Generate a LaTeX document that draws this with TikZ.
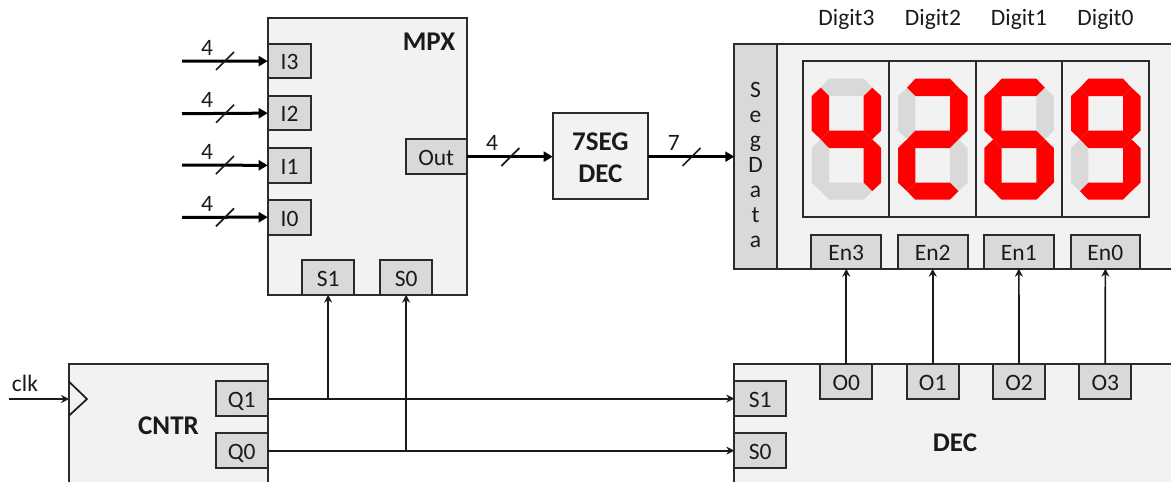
\documentclass[tikz,border=0pt]{standalone}
\usepackage{fontspec}
\setmainfont{Carlito}
\usetikzlibrary{arrows.meta}
\definecolor{panel}{HTML}{F2F2F2}
\definecolor{port}{HTML}{D9D9D9}
\definecolor{edge}{HTML}{2B2B2B}
\definecolor{ink}{HTML}{1A1A1A}
\tikzset{
  lbl/.style={font=\fontsize{23.5}{28}\selectfont,text=ink,inner sep=0pt},
  title/.style={font=\fontsize{27}{31.5}\selectfont\bfseries,text=ink,inner sep=0pt,align=center},
  sig/.style={line width=1.7pt,draw=ink,-{Stealth[length=8pt,width=8pt]}},
  bus/.style={line width=3pt,draw=black,-{Stealth[length=9pt,width=10pt,inset=0pt]},shorten >=0pt},
  tick/.style={line width=1.7pt,draw=ink},
  plain/.style={line width=1.7pt,draw=ink},
  frame/.style={draw=edge,line width=1.8pt,fill=panel},
  portbox/.style={draw=edge,line width=1.8pt,fill=port,text height=17.6pt,text depth=0pt},
  seggray/.style={fill=port},
  segred/.style={fill=red}
}
% box by corners: name, x1, y1, x2, y2, style, text
\newcommand{\cbox}[7]{%
  \pgfmathsetmacro{\bw}{#4-#2}\pgfmathsetmacro{\bh}{#5-#3}%
  \pgfmathsetmacro{\bx}{(#2+#4)/2}\pgfmathsetmacro{\by}{(#3+#5)/2}%
  \node[#6,lbl,anchor=center,minimum width=\bw pt,minimum height=\bh pt,outer sep=0pt] (#1) at (\bx,\by) {#7};}
% segments
\newcommand{\segA}[2]{\fill[#2,shift={(#1,78.7)}] (9,9)--(17.3,0)--(52,0)--(60.5,9)--(52,17.3)--(17.3,17.3)--cycle;}
\newcommand{\segF}[2]{\fill[#2,shift={(#1,78.7)}] (0,17.3)--(9,9)--(17.3,17.3)--(17.3,52)--(9,60.6)--(0,52)--cycle;}
\newcommand{\segB}[2]{\fill[#2,shift={(#1,78.7)}] (69.5,17.3)--(60.5,9)--(52,17.3)--(52,52)--(60.5,60.6)--(69.5,52)--cycle;}
\newcommand{\segG}[2]{\fill[#2,shift={(#1,78.7)}] (9,60.6)--(17.3,52)--(52,52)--(60.5,60.6)--(52,69.3)--(17.3,69.3)--cycle;}
\newcommand{\segE}[2]{\fill[#2,shift={(#1,78.7)}] (0,69.3)--(9,60.6)--(17.3,69.3)--(17.3,104)--(9,112.5)--(0,104)--cycle;}
\newcommand{\segC}[2]{\fill[#2,shift={(#1,78.7)}] (69.5,69.3)--(60.5,60.6)--(52,69.3)--(52,104)--(60.5,112.5)--(69.5,104)--cycle;}
\newcommand{\segD}[2]{\fill[#2,shift={(#1,78.7)}] (9,112.5)--(17.3,104)--(52,104)--(60.5,112.5)--(52,121)--(17.3,121)--cycle;}
\newcommand{\busmark}[1]{\draw[tick] ([shift={(-9,9)}]#1) -- ([shift={(9,-9)}]#1);}
\begin{document}
\begin{tikzpicture}[x=1pt,y=-1pt]
\useasboundingbox (0,0) rectangle (1171,482);
\clip (0,0) rectangle (1171,482);

% MPX
\cbox{mpx}{267.7}{17.7}{466.7}{294.7}{frame}{}
\cbox{i3}{267.7}{44}{311.3}{78.3}{portbox}{I3}
\cbox{i2}{267.7}{96}{311.3}{130.3}{portbox}{I2}
\cbox{i1}{267.7}{148}{311.3}{182.7}{portbox}{I1}
\cbox{i0}{267.7}{199.7}{311.3}{234.7}{portbox}{I0}
\cbox{out}{405.7}{139.3}{466.7}{174}{portbox}{Out}
\cbox{ms1}{302}{260}{354.3}{294.7}{portbox}{S1}
\cbox{ms0}{380.3}{260}{432}{294.7}{portbox}{S0}
\node[title] (mpxt) at (429,42) {MPX};

% 7SEG
\cbox{seg}{552.7}{113.3}{648}{199.3}{frame}{}
\node[title] (segt) at (600.3,157.5) {7SEG\\DEC};

% Display
\cbox{disp}{734.3}{44}{1190}{268.7}{frame}{}
\cbox{segdata}{734.3}{44}{777.3}{268.7}{portbox}{}
\node[lbl,align=center,font=\fontsize{23.5}{25}\selectfont] (segdatat) at (755.5,165) {S\\e\\g\\D\\a\\t\\a};
\cbox{d3}{802.7}{61}{889.3}{217}{frame}{}
\cbox{d2}{889.3}{61}{976.3}{217}{frame}{}
\cbox{d1}{976.3}{61}{1062.3}{217}{frame}{}
\cbox{d0}{1062.3}{61}{1148.7}{217}{frame}{}
\cbox{en3}{811.3}{234.7}{881.3}{268.7}{portbox}{En3}
\cbox{en2}{897.7}{234.7}{967.7}{268.7}{portbox}{En2}
\cbox{en1}{984}{234.7}{1053.7}{268.7}{portbox}{En1}
\cbox{en0}{1070.7}{234.7}{1140}{268.7}{portbox}{En0}
\node[lbl] (t3) at (846.5,19) {Digit3};
\node[lbl] (t2) at (933,19) {Digit2};
\node[lbl] (t1) at (1019,19) {Digit1};
\node[lbl] (t0) at (1105.5,19) {Digit0};

% Digit 4
\segA{811.7}{seggray}\segE{811.7}{seggray}\segD{811.7}{seggray}
\segF{811.7}{segred}\segB{811.7}{segred}\segG{811.7}{segred}\segC{811.7}{segred}
% Digit 2
\segF{898}{seggray}\segC{898}{seggray}
\segA{898}{segred}\segB{898}{segred}\segG{898}{segred}\segE{898}{segred}\segD{898}{segred}
% Digit 6
\segB{984.3}{seggray}
\segA{984.3}{segred}\segF{984.3}{segred}\segG{984.3}{segred}\segE{984.3}{segred}\segC{984.3}{segred}\segD{984.3}{segred}
% Digit 9
\segE{1071}{seggray}
\segA{1071}{segred}\segF{1071}{segred}\segB{1071}{segred}\segG{1071}{segred}\segC{1071}{segred}\segD{1071}{segred}

% CNTR
\cbox{cntr}{69}{364.3}{267.7}{500}{frame}{}
\cbox{q1}{215.7}{381}{267.7}{416.3}{portbox}{Q1}
\cbox{q0}{215.7}{433}{267.7}{468.3}{portbox}{Q0}
\node[title] (cntrt) at (168.5,426) {CNTR};
\coordinate (ta) at (69,381.7);
\coordinate (tb) at (87,399);
\coordinate (tc) at (69,415.7);
\draw[plain] (ta) -- (tb) -- (tc);

% DEC
\cbox{dec}{734.3}{364.3}{1190}{500}{frame}{}
\cbox{ds1}{734.3}{381}{786.3}{416.3}{portbox}{S1}
\cbox{ds0}{734.3}{433}{786.3}{468.3}{portbox}{S0}
\cbox{o0}{820.3}{364.3}{872.3}{398.7}{portbox}{O0}
\cbox{o1}{906.7}{364.3}{958.7}{398.7}{portbox}{O1}
\cbox{o2}{993}{364.3}{1045}{398.7}{portbox}{O2}
\cbox{o3}{1079.3}{364.3}{1131.3}{398.7}{portbox}{O3}
\node[title] (dect) at (955,443) {DEC};

% clk
\node[lbl] (clkt) at (25,383) {clk};
\coordinate (clkin) at (9.3,399);
\draw[sig] (clkin) -- (ta |- tb);

% buses into the MPX
\coordinate (c3) at (182,61);
\coordinate (c2) at (182,113.7);
\coordinate (c1) at (182,165);
\coordinate (c0) at (182,217.3);
\draw[bus] (c3) -- (i3.west);
\draw[bus] (c2) -- (i2.west);
\draw[bus] (c1) -- (i1.west);
\draw[bus] (c0) -- (i0.west);
\coordinate (k3) at (225,61);
\coordinate (k2) at (225,113.7);
\coordinate (k1) at (225,165);
\coordinate (k0) at (225,217.3);
\busmark{k3}\busmark{k2}\busmark{k1}\busmark{k0}
\node[lbl] (n3) at (207,48) {4};
\node[lbl] (n2) at (207,100) {4};
\node[lbl] (n1) at (207,152) {4};
\node[lbl] (n0) at (207,204) {4};

% Out -> 7SEG -> display
\draw[bus] (out.east) -- (seg.west |- out.east);
\draw[bus] (seg.east |- out.east) -- (segdata.west |- out.east);
\coordinate (k4) at (510.3,157);
\coordinate (k5) at (691.5,157);
\busmark{k4}\busmark{k5}
\node[lbl] (n4) at (492,143) {4};
\node[lbl] (n5) at (673.7,143) {7};

% counter outputs
\draw[sig] (q1.east) -- (ds1.west);
\draw[sig] (q0.east) -- (ds0.west);
\draw[sig] (ms1.south |- q1.east) -- (ms1.south);
\draw[sig] (ms0.south |- q0.east) -- (ms0.south);

% decoder outputs
\draw[sig] (o0.north) -- (en3.south);
\draw[sig] (o1.north) -- (en2.south);
\draw[sig] (o2.north) -- (en1.south);
\draw[sig] (o3.north) -- (en0.south);
\end{tikzpicture}
\end{document}
